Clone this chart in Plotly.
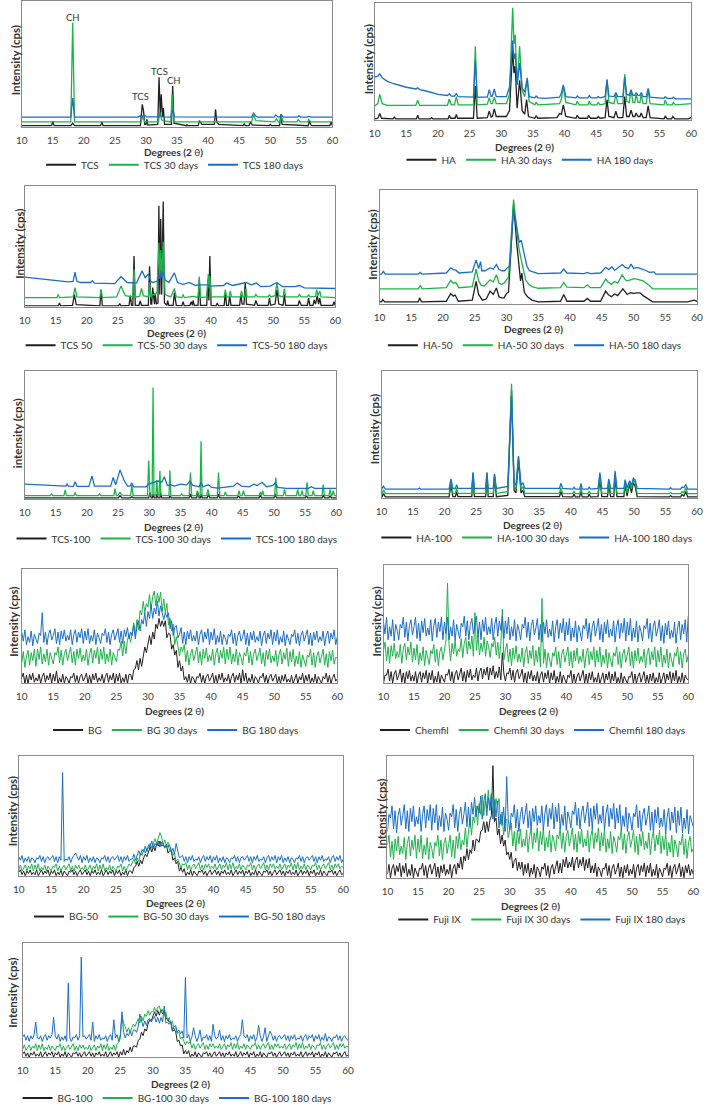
import plotly.graph_objects as go

FONT = "Lato, 'Open Sans', sans-serif"
C_BLACK = "#231f20"
C_GREEN = "#1fb24a"
C_BLUE = "#1a6fc4"

# ---------------- shared 2-theta grid (0.25 deg) for the noisy (amorphous) patterns ----------------
THETA_F = [10.0,10.25,10.5,10.75,11.0,11.25,11.5,11.75,12.0,12.25,
           12.5,12.75,13.0,13.25,13.5,13.75,14.0,14.25,14.5,14.75,
           15.0,15.25,15.5,15.75,16.0,16.25,16.5,16.75,17.0,17.25,
           17.5,17.75,18.0,18.25,18.5,18.75,19.0,19.25,19.5,19.75,
           20.0,20.25,20.5,20.75,21.0,21.25,21.5,21.75,22.0,22.25,
           22.5,22.75,23.0,23.25,23.5,23.75,24.0,24.25,24.5,24.75,
           25.0,25.25,25.5,25.75,26.0,26.25,26.5,26.75,27.0,27.25,
           27.5,27.75,28.0,28.25,28.5,28.75,29.0,29.25,29.5,29.75,
           30.0,30.25,30.5,30.75,31.0,31.25,31.5,31.75,32.0,32.25,
           32.5,32.75,33.0,33.25,33.5,33.75,34.0,34.25,34.5,34.75,
           35.0,35.25,35.5,35.75,36.0,36.25,36.5,36.75,37.0,37.25,
           37.5,37.75,38.0,38.25,38.5,38.75,39.0,39.25,39.5,39.75,
           40.0,40.25,40.5,40.75,41.0,41.25,41.5,41.75,42.0,42.25,
           42.5,42.75,43.0,43.25,43.5,43.75,44.0,44.25,44.5,44.75,
           45.0,45.25,45.5,45.75,46.0,46.25,46.5,46.75,47.0,47.25,
           47.5,47.75,48.0,48.25,48.5,48.75,49.0,49.25,49.5,49.75,
           50.0,50.25,50.5,50.75,51.0,51.25,51.5,51.75,52.0,52.25,
           52.5,52.75,53.0,53.25,53.5,53.75,54.0,54.25,54.5,54.75,
           55.0,55.25,55.5,55.75,56.0,56.25,56.5,56.75,57.0,57.25,
           57.5,57.75,58.0,58.25,58.5,58.75,59.0,59.25,59.5,59.75,
           60.0]

# ---------------- TCS ----------------
TCS_0 = [(10,1),(14.8,1),(15.0,4.5),(15.2,1),(17.9,1),(18.2,3),(18.5,1),(22.7,1),(22.9,4),(23.1,1),
         (29.1,1),(29.4,18),(29.6,13),(29.8,2),(30.0,2),(30.15,6),(30.3,1.5),(31.9,2),(32.1,39.5),(32.3,10),
         (32.45,26),(32.65,8),(32.8,15),(33.0,2),(34.1,2),(34.3,32.5),(34.5,3),(36.5,1),(36.6,2),(36.7,1),
         (38.4,1),(38.6,5),(39.0,2),(41.0,2),(41.2,14),(41.4,4),(41.7,2),(45.6,1),(45.8,2.5),(46.0,1),
         (46.6,1),(46.8,4),(47.1,1.5),(49.8,1),(50.0,2),(50.2,1),(51.5,1),(51.7,10),(51.9,2),(56.1,1),
         (56.3,5),(56.6,1),(59.6,1),(59.8,4),(60,1)]
TCS_30 = [(10,4),(17.9,4),(18.2,83),(18.5,4),(29.2,4),(29.5,8.5),(29.8,4),(32.0,4),(32.2,12),(32.5,6),
          (32.7,5),(34.0,4),(34.2,26),(34.5,4),(47.0,4),(47.3,9.5),(47.7,5),(50.7,4),(51.0,6.5),(51.3,4),
          (51.6,4),(51.8,8.5),(52.1,4),(54.3,4),(54.5,6),(54.8,4),(56.0,4),(56.2,6),(56.5,4),(60,4)]
TCS_180 = [(10,7.8),(17.9,7.8),(18.2,23),(18.5,7.8),(28.7,7.8),(29.0,8.8),(29.3,8),(29.7,9.8),(30.1,8),
           (32.1,8),(32.3,9.5),(32.6,8),(34.0,7.8),(34.3,14),(34.6,8),(47.0,7.8),(47.3,11),(47.7,8.5),
           (48,7.8),(50.6,7.8),(50.9,9.6),(51.2,8),(51.6,8),(51.8,9.6),(52.1,7.8),(54.4,7.8),(54.6,8.8),
           (54.9,7.8),(56.0,7.8),(56.2,8.5),(56.5,7.8),(60,7.8)]
TCS_LABELS = ["CH", "TCS", "TCS", "CH"]
TCS_LABEL_POS = [18.2, 29.1, 32.2, 34.5]
TCS_LABEL_H = [87, 24, 44, 37]

# ---------------- HA ----------------
HA_0 = [(10,1),(10.5,1.5),(10.8,5.5),(11.1,1.5),(12.9,1),(13.1,2.5),(13.3,1),(16.6,1),(16.8,4),(17.0,1),
        (18.8,1),(19,2),(19.2,1),(21.6,1),(21.8,4),(22.0,1.5),(22.7,1.5),(22.9,4.8),(23.1,1.5),(25.6,1.5),
        (25.9,29),(26.2,1.5),(27.8,2),(28.1,7.6),(28.4,2.5),(28.6,3),(28.9,9.6),(29.2,3),(30.8,3),(31.3,8),
        (31.8,61),(32.0,40),(32.2,46),(32.5,10),(32.9,34),(33.3,8),(33.7,5),(34.0,17.5),(34.3,3),(35.3,1.5),
        (35.5,3.5),(35.8,1.5),(38.8,2),(39.2,5.5),(39.5,5),(39.8,13),(40.2,3),(41.8,1.5),(42.0,4),(42.3,1.5),
        (43.6,1.5),(43.8,4),(44.1,1.5),(45.1,1.5),(45.3,3),(45.6,1.5),(46.4,2),(46.7,17.5),(47.0,3),(47.8,2),
        (48.1,7.6),(48.4,2),(49.2,2),(49.5,20),(49.8,3),(50.2,3),(50.5,8.5),(50.8,3),(51.1,3),(51.3,6),
        (51.6,3),(51.9,3),(52.1,6),(52.4,2),(52.9,2),(53.2,12),(53.5,2),(55.7,1),(55.9,3.5),(56.2,1),
        (56.9,1),(57.1,3),(57.4,1),(59.5,1),(60,2)]
HA_30 = [(10,12),(10.5,14),(10.8,22),(11.2,14),(12,12.5),(16.5,12.5),(16.8,17),(17.1,12.5),(21.5,12.5),
         (21.8,18),(22.1,13),(22.6,13),(22.9,20),(23.2,13),(25.6,13),(25.9,63),(26.2,13),(27.8,13.5),
         (28.1,19),(28.4,14),(28.6,14),(28.9,19.5),(29.2,14),(30.8,14),(31.3,22),(31.8,96),(32.0,65),
         (32.2,73),(32.5,30),(32.9,63),(33.3,25),(33.7,20),(34.1,35),(34.4,16),(35.3,13),(35.5,15),(35.8,13),
         (39.2,14),(39.5,18),(39.8,29),(40.2,15),(41.8,13),(42.0,16),(42.3,13),(43.7,13),(43.9,16),(44.2,13),
         (45.1,13),(45.3,15),(45.6,13),(46.4,14),(46.7,34.5),(47.0,15),(47.8,14),(48.1,22),(48.4,14),
         (49.2,14),(49.5,39),(49.8,16),(50.2,15),(50.5,25),(50.8,15),(51.1,15),(51.3,22),(51.6,15),(51.9,15),
         (52.1,22),(52.4,14),(52.9,14),(53.2,26),(53.5,14),(55.7,13),(55.9,17),(56.2,13),(57.0,13),(57.2,15),
         (57.5,13),(60,14)]
HA_180 = [(10,36.7),(10.5,37.5),(10.8,39.5),(11.2,36),(12,33),(13,31),(15,28),(16.5,26.5),(16.8,27.5),
          (17.1,26),(18,25),(20,22),(21.5,21),(21.8,22.5),(22.1,20.5),(22.6,20.5),(22.9,22.5),(23.2,20),
          (25.6,19.5),(25.9,51),(26.2,19.5),(27.8,19.5),(28.1,26),(28.4,20),(28.6,20.5),(28.9,26.5),(29.2,20),
          (30.8,20),(31.3,28),(31.8,68),(32.0,52),(32.2,57),(32.5,30),(32.9,48.6),(33.3,27),(33.7,24),
          (34.1,36),(34.4,20),(35.3,19),(35.5,20.5),(35.8,19),(37,18.5),(39.2,19.5),(39.5,23),(39.8,30),
          (40.2,20),(41.8,19),(42.0,20.5),(42.3,19),(43.7,19),(43.9,21),(44.2,19),(45.1,19),(45.3,20),
          (45.6,19),(46.4,20),(46.7,34.5),(47.0,20.5),(47.8,20),(48.1,23.5),(48.4,20),(49.2,20),(49.5,37),
          (49.8,22),(50.2,21),(50.5,26),(50.8,21),(51.1,21),(51.3,23.5),(51.6,21),(51.9,21),(52.1,23.5),
          (52.4,20),(52.9,20),(53.2,27),(53.5,19.5),(55.7,18.5),(55.9,20),(56.2,18.5),(57.0,18.5),(57.2,19.5),
          (57.5,18),(60,18)]

# ---------------- TCS 50 ----------------
TCS50_0 = [(10,0.5),(15.4,0.5),(15.6,3),(15.8,0.5),(17.7,1),(18.0,10),(18.3,1.5),(22.1,0.5),(22.3,14),
           (22.5,0.5),(25.1,0.5),(25.3,2.5),(25.5,0.5),(26.8,1),(27.0,9),(27.2,1),(27.4,1),(27.6,42),(27.8,1),
           (28.4,1),(28.6,4.7),(28.8,1),(29.9,1),(30.1,33.5),(30.3,2),(30.45,2),(30.6,15.7),(30.8,2),(30.9,2),
           (31.0,11),(31.2,2),(31.45,3),(31.6,84),(31.75,10),(31.9,73),(32.05,10),(32.3,87.5),(32.5,3),
           (32.9,1),(33.0,5),(33.2,1),(33.9,1),(34.1,11.5),(34.4,1),(35.3,0.5),(35.5,4),(35.7,0.5),(36.6,1),
           (36.8,4),(37.0,1),(37.1,5),(37.3,1),(37.9,1),(38.1,22.5),(38.3,1),(39.3,1),(39.5,22.5),(39.65,5),
           (39.8,42),(40.0,1),(40.8,0.5),(41.0,3),(41.2,0.5),(42.1,1),(42.3,11.5),(42.5,1),(42.8,1),(43.0,9),
           (43.2,1),(44.6,1),(44.8,10),(45.0,2),(45.3,2),(45.5,20),(45.7,2),(47.0,1),(47.2,5),(47.5,1),
           (49.2,1),(49.4,7),(49.6,1),(50.3,2),(50.6,14),(50.9,2),(51.6,1),(51.8,10),(52.0,1),(54.0,1),
           (54.2,5),(54.5,1),(55.5,1),(55.7,7),(55.9,1),(56.4,1),(56.6,5.5),(56.8,2),(57.1,9),(57.3,2),
           (57.5,7),(57.7,1),(59.6,1),(59.8,4),(60,0.5)]
TCS50_30 = [(10,7.4),(15.2,7.4),(15.4,10),(15.6,7.4),(17.8,8),(18.1,15.7),(18.4,8),(22.1,7.4),(22.3,14),
            (22.5,7.4),(24.8,8),(25.5,17),(26.2,9),(27.4,8),(27.6,31),(27.8,8),(28.5,8.5),(28.8,15),(29.1,9),
            (29.9,8),(30.1,20),(30.3,8),(30.6,10),(31.0,10),(31.3,12),(31.6,53),(31.75,25),(31.9,47),
            (32.05,25),(32.3,54),(32.6,10),(33.5,8),(34.1,15),(34.4,8),(35.3,7.4),(35.5,10),(35.7,7.4),
            (36.8,8.5),(37.1,8.5),(37.9,7.5),(38.1,25),(38.3,7.5),(39.3,8),(39.55,27),(39.7,15),(39.8,25.5),
            (40.0,8),(42.1,8),(42.3,14),(42.5,8),(42.9,8),(43.1,13),(43.3,8),(44.7,8),(44.9,13),(45.1,8),
            (45.4,8),(45.6,15),(45.8,8),(47.0,8),(47.2,10),(47.5,8),(49.2,8),(49.4,10),(49.6,8),(50.3,9),
            (50.6,20),(50.9,9),(51.6,8),(51.8,15),(52.0,8),(54.0,8),(54.2,10),(54.5,8),(55.5,8),(55.7,10),
            (55.9,8),(56.8,8.5),(57.0,14),(57.2,9),(57.5,13),(57.7,8),(60,7.4)]
TCS50_180 = [(10,24.5),(12,23.5),(15,22),(17,20.5),(17.8,21),(18.1,28.6),(18.4,21),(19,20),(20.6,20),
             (20.9,21.5),(21.2,19.5),(24.5,19),(25.5,25),(26.5,20),(28.0,19.5),(28.9,29.7),(29.4,24),
             (29.9,27),(30.3,21),(30.6,20),(31.3,21),(31.6,26),(31.75,23),(31.9,28),(32.05,24),(32.3,29),
             (32.6,22),(33.2,20),(34.1,28),(34.6,20),(35.5,18.5),(36.5,20),(37.5,17.5),(38.1,18),(39.5,18),
             (40,17),(42,17.5),(42.5,19.5),(43.5,17.5),(45.6,20),(46.5,18),(47.3,19.5),(48,16.5),(49.5,17),
             (50.6,20),(51.5,16.5),(53.5,16.5),(54.2,17.5),(55,15.5),(57.5,15.5),(60,15)]

# ---------------- HA-50 ----------------
HA50_0 = [(10,1.5),(10.3,1.5),(10.5,3.5),(10.8,1.5),(16.1,1.5),(16.3,5),(16.6,1.5),(20.5,2),(21.2,8.8),
          (21.6,6.5),(21.9,7.5),(22.4,2),(24.6,3),(25.2,19.6),(25.6,8),(25.8,6),(26.2,3),(26.8,4),(27.4,11),
          (27.9,8),(28.4,13.7),(28.8,6),(29.2,5),(29.6,5),(30.0,9),(30.3,10),(31.1,88),(31.6,53),(31.8,40),
          (32.0,31),(32.2,20),(32.4,27),(32.8,10),(33.0,8),(33.3,6),(34,3),(35,1.5),(38.5,2),(39.0,8),
          (39.5,2),(42.2,2),(42.7,4.5),(43.2,2),(44.8,2),(45.6,11),(46.0,8),(46.5,6),(47.0,8.5),(47.5,7),
          (48.3,13),(48.7,10),(49.0,8),(49.5,9.5),(50.0,9),(50.5,9.5),(51.0,9.5),(51.5,7),(52.0,5),(52.5,3),
          (53,1.5),(58.5,1.5),(59.5,3),(60,2)]
HA50_30 = [(10,13),(16.1,13),(16.4,16),(16.7,13),(20.5,14),(21.2,20.5),(21.6,18),(22.0,18.5),(22.5,14),
           (24.6,15),(25.2,30.4),(25.6,20),(26.0,16),(26.5,15.5),(27.4,21),(27.9,19),(28.4,25.4),(28.8,18),
           (29.2,17),(29.6,18),(30.0,21),(30.3,23),(31.1,92),(31.6,62),(31.9,50),(32.2,41.5),(32.5,33),
           (33.0,21),(33.5,17),(34.0,15),(35,13.5),(38.5,14),(39.0,18.7),(39.5,14.5),(42.2,14),(42.7,16.5),
           (43.2,14),(44.8,14),(45.6,21.6),(46.0,19),(46.5,17),(47.0,19.5),(47.5,18),(48.2,25.4),(48.7,21),
           (49.0,20),(49.5,21),(50.0,22),(50.5,21.5),(51.0,21),(51.5,20),(52.0,18),(52.5,16),(53,13),(60,13)]
HA50_180 = [(10,26),(10.3,26),(10.6,28.5),(10.9,26),(16.1,26),(16.4,27.5),(16.7,26),(20.5,27),(21.2,31.6),
            (21.6,30),(22.0,29.5),(22.5,27),(24.6,28),(25.2,38.6),(25.6,31),(25.9,37),(26.1,29),(26.6,29),
            (27.4,31.5),(27.9,30.5),(28.4,34.5),(28.8,30),(29.3,29),(29.7,29),(30.1,31.5),(30.5,33),(31.1,84),
            (31.7,65),(32.0,54),(32.3,56),(32.7,46),(33.2,33),(33.6,29),(34.1,28),(35,26.5),(38.5,27),
            (39.0,30.5),(39.5,27),(42.2,26.5),(42.7,27.5),(43.2,26.5),(44.8,27),(45.6,32),(46.1,30),(46.6,32.5),
            (47.0,29.5),(47.3,30.5),(48.2,34.5),(48.7,32),(49.2,31),(49.6,35),(50.0,31),(50.5,32),(51.0,31),
            (51.3,30.5),(52.0,29),(52.5,27.5),(53.2,28),(53.5,26),(60,26)]

# ---------------- TCS-100 ----------------
TCS100_0 = [(10,0.8),(25.0,0.8),(25.3,2.5),(25.6,0.8),(27.0,0.8),(27.2,1.8),(27.4,0.8),(29.9,0.8),(30.1,5),
            (30.3,0.8),(30.5,0.8),(30.6,3.8),(30.8,0.8),(31.1,0.8),(31.2,3.8),(31.4,0.8),(31.7,0.8),(31.8,5),
            (32.0,0.8),(33.2,0.8),(33.3,2.5),(33.5,0.8),(36.4,0.8),(36.6,3.8),(36.8,0.8),(37.6,0.8),(37.8,5),
            (38.0,0.8),(38.2,0.8),(38.3,3.8),(38.5,0.8),(39.3,0.8),(39.5,3.8),(39.7,0.8),(40.9,0.8),(41.1,3.8),
            (41.3,0.8),(44.1,0.8),(44.3,2.5),(44.5,0.8),(47.6,0.8),(47.8,3),(48.0,0.8),(50.0,0.8),(50.2,3.8),
            (50.4,0.8),(55.0,0.8),(55.2,2.5),(55.4,0.8),(57.7,0.8),(57.9,3),(58.1,0.8),(58.8,0.8),(59.0,2.5),
            (59.2,0.8),(60,0.8)]
TCS100_30 = [(10,2.6),(14.1,2.6),(14.3,4),(14.5,2.6),(16.3,2.6),(16.5,7),(16.7,2.6),(17.9,2.6),(18.1,5),
             (18.3,2.6),(21.8,2.6),(22.0,4),(22.2,2.6),(24.3,2.6),(24.5,8),(24.7,2.6),(25.0,3),(25.3,5),
             (25.6,3),(27.0,2.6),(27.2,10.8),(27.4,2.6),(29.7,2.6),(29.9,30),(30.1,3),(30.45,3),(30.6,87),
             (30.75,3),(31.05,3),(31.2,14.7),(31.35,3),(31.55,3),(31.7,22),(31.85,3),(33.15,2.6),(33.3,22.4),
             (33.45,2.6),(35.0,2.6),(35.2,4),(35.4,2.6),(36.4,2.6),(36.6,20.6),(36.8,2.6),(37.5,2.6),(37.7,6.5),
             (37.9,2.6),(38.15,2.6),(38.3,45),(38.45,2.6),(39.2,2.6),(39.4,7.5),(39.6,2.6),(40.9,2.6),
             (41.1,20.6),(41.3,2.6),(42.0,2.6),(42.2,5.5),(42.4,2.6),(44.2,2.6),(44.4,6.5),(44.6,2.6),(44.9,2.6),
             (45.1,6.5),(45.3,2.6),(47.6,2.6),(47.8,5.5),(48.0,2.6),(48.2,6.5),(48.4,2.6),(50.1,2.6),(50.3,16.7),
             (50.5,2.6),(51.5,2.6),(51.7,7.5),(51.9,2.6),(53.6,2.6),(53.8,7.5),(54.0,2.6),(54.3,2.6),(54.5,6.5),
             (54.7,2.6),(55.1,2.6),(55.3,12.9),(55.5,2.6),(56.1,2.6),(56.3,6.5),(56.5,2.6),(57.7,2.6),
             (57.9,11.3),(58.1,2.6),(58.8,2.6),(59.0,7.5),(59.2,2.6),(59.3,2.6),(59.5,6.5),(59.7,2.6),(60,2.6)]
TCS100_180 = [(10,11.6),(12,11),(15,10),(16.6,10),(16.8,11.6),(17.0,10),(17.8,9.8),(18.1,13.4),(18.4,9.8),
              (20.3,9.8),(20.8,18),(21.2,10),(23.8,10),(24.2,16.8),(24.6,11),(25.3,22.7),(25.9,15),(26.5,10),
              (26.9,10),(27.2,12.5),(27.5,9.5),(29.5,9.5),(29.9,11.6),(30.6,13),(31.4,14),(32.0,13),
              (32.4,17.3),(32.9,10.5),(33.5,11),(34,10),(35,11.5),(36,11),(36.5,14),(37.0,10.5),(38.0,9.5),
              (38.3,13),(38.6,9.5),(39.5,11),(40,9),(41,8.5),(43.5,10),(44.1,12.4),(44.8,10),(46,9.5),
              (46.8,11.5),(47.3,10.5),(48.1,13),(48.8,9.5),(49.8,10.5),(50.2,12.5),(50.6,9),(52,8.2),
              (55.5,8.2),(56,9.5),(56.5,8.2),(60,8.2)]

# ---------------- HA-100 ----------------
HA100_0 = [(10,0.8),(10.1,1),(10.3,3.5),(10.6,0.8),(20.7,0.8),(21.0,10),(21.3,1),(21.7,1),(21.9,5),(22.1,1),
           (24.3,1),(24.5,18),(24.7,1),(26.5,1),(26.7,18),(26.9,1),(27.7,1),(27.9,16),(28.2,1),(30.0,2),
           (30.6,85),(31.0,6),(31.3,4),(31.7,30),(32.1,4),(32.4,6),(32.7,1),(38.2,1),(38.4,5),(38.7,1),
           (40.3,0.8),(40.5,3),(40.7,0.8),(41.4,0.8),(41.6,5),(41.8,0.8),(42.7,0.8),(42.9,3),(43.1,0.8),
           (44.3,1),(44.6,15),(44.9,1),(45.8,1),(46.0,10),(46.3,1),(46.8,1),(47.0,16),(47.3,1),(48.4,1),
           (48.6,10),(48.9,1.5),(49.3,11),(49.6,4),(49.9,12),(50.2,9),(50.5,1),(55.6,0.8),(55.8,1.8),
           (56.0,0.8),(57.4,0.8),(57.6,2.5),(57.9,1.5),(58.2,5),(58.5,0.8),(60,0.8)]
HA100_30 = [(10,3.4),(10.1,3.6),(10.3,6.5),(10.6,3.4),(20.7,3.4),(21.0,13),(21.3,3.6),(21.7,3.6),(21.9,8),
            (22.1,3.6),(24.3,3.6),(24.5,20),(24.7,3.6),(26.5,3.6),(26.7,20),(26.9,3.6),(27.7,3.6),(27.9,18),
            (28.2,3.6),(30.0,5),(30.6,90),(31.0,9),(31.3,7),(31.7,32),(32.1,7),(32.4,9),(32.7,3.6),(38.2,3.6),
            (38.4,8),(38.7,3.6),(40.3,3.4),(40.5,5.5),(40.7,3.4),(41.4,3.4),(41.6,8),(41.8,3.4),(42.7,3.4),
            (42.9,5.5),(43.1,3.4),(44.3,3.6),(44.6,18),(44.9,3.6),(45.8,3.6),(46.0,13),(46.3,3.6),(46.8,3.6),
            (47.0,19),(47.3,3.6),(48.4,3.6),(48.6,13),(48.9,4),(49.3,13),(49.6,7),(49.9,14),(50.2,12),
            (50.5,3.6),(55.6,3.4),(55.8,4.4),(56.0,3.4),(57.4,3.4),(57.6,5),(57.9,4),(58.2,8),(58.5,3.4),(60,3.4)]
HA100_180 = [(10,7),(10.1,7.5),(10.3,9.3),(10.6,7),(15.8,7),(16,7.8),(16.2,7),(20.7,7),(21.0,15),(21.3,7.5),
             (21.7,7.5),(21.9,10.5),(22.1,7.5),(24.3,7.5),(24.5,20),(24.7,7.5),(26.5,7.5),(26.7,20),(26.9,7.5),
             (27.7,7.5),(27.9,19),(28.2,7.5),(30.0,9),(30.6,80),(31.0,12),(31.3,10),(31.7,33),(32.1,10),
             (32.4,12),(32.7,7.5),(38.2,7.5),(38.4,11.5),(38.7,7.5),(40.3,7),(40.5,8.5),(40.7,7),(41.4,7),
             (41.6,11.5),(41.8,7),(42.7,7),(42.9,8.5),(43.1,7),(44.3,7.5),(44.6,20),(44.9,7.5),(45.8,7.5),
             (46.0,15),(46.3,7.5),(46.8,7.5),(47.0,21.4),(47.3,7.5),(48.4,7.5),(48.6,14.5),(48.9,8),(49.3,13.5),
             (49.6,10),(49.9,15.5),(50.2,14),(50.5,7.5),(55.6,7),(55.8,8),(56.0,7),(57.4,7),(57.6,8.5),
             (57.9,8),(58.2,10.5),(58.5,7),(60,7)]

# ---------------- BG (values on THETA_F) ----------------
BG_0 = [5,9,0,7,0,8,3,9,1,5,
        2,8,0,6,9,1,7,3,9,0,
        8,2,11,0,5,1,8,0,6,4,
        0,6,5,9,1,7,0,6,8,2,
        5,9,0,7,0,8,3,9,1,5,
        2,8,0,6,9,1,7,3,9,0,
        8,2,9,0,5,1,8,0,8,8,
        3,12,13,20,12,22,15,26,32,27,
        34,42,34,45,39,52,48,57,50,55,
        50,55,40,44,43,30,34,25,29,14,
        20,11,15,3,6,1,8,0,6,4,
        0,6,5,9,1,7,0,6,8,2,
        5,9,0,7,0,8,3,9,1,5,
        2,8,0,6,9,1,7,3,9,0,
        12,2,9,0,5,1,8,0,6,4,
        0,6,5,9,1,7,0,6,8,2,
        5,8,0,6,0,7,2,8,1,4,
        1,7,0,5,8,0,6,3,9,0,
        7,2,8,0,5,1,8,0,6,3,
        0,6,4,9,1,7,0,5,8,2,
        4]
BG_30 = [18,28,14,24,29,16,27,20,30,15,
         30,21,32,17,26,19,30,16,27,23,
         17,27,25,32,18,29,16,26,30,20,
         26,32,18,28,16,30,22,31,19,25,
         20,30,16,26,31,18,29,22,32,17,
         30,21,32,17,26,19,30,16,27,23,
         19,30,29,37,24,37,26,38,43,36,
         44,53,42,56,47,64,60,72,62,70,
         67,78,65,76,81,68,79,71,80,63,
         74,62,70,51,57,46,52,34,41,34,
         24,32,28,34,19,29,16,26,30,20,
         26,32,18,28,16,30,22,31,19,25,
         20,30,16,26,31,18,29,22,32,17,
         30,21,32,17,26,19,30,16,27,23,
         16,27,24,32,18,28,16,26,30,20,
         25,31,17,27,15,29,21,30,18,24,
         19,29,15,25,30,17,27,21,31,15,
         28,19,30,15,24,17,28,14,25,21,
         15,25,23,30,16,27,14,24,28,18,
         24,30,16,26,14,28,20,29,17,23,
         22]
BG_180 = [45,37,47,34,41,36,46,33,43,39,
          35,44,42,62,36,45,34,43,47,38,
          42,48,35,45,34,46,39,47,37,42,
          38,47,34,43,47,36,45,40,48,35,
          46,38,48,35,42,37,47,34,44,40,
          35,44,42,48,36,45,34,43,47,38,
          42,48,36,46,35,47,41,49,39,45,
          42,51,39,50,55,46,56,52,62,50,
          63,57,69,57,66,61,72,59,68,63,
          56,62,58,62,48,55,42,49,51,40,
          43,49,35,45,34,46,39,47,37,42,
          37,46,34,43,47,36,45,39,48,34,
          45,38,48,34,42,36,46,34,43,40,
          34,43,41,47,35,44,33,42,46,37,
          41,47,34,44,33,45,38,46,36,41,
          37,46,33,42,46,35,44,39,47,34,
          45,37,47,34,41,36,46,33,43,39,
          34,43,41,47,35,44,33,42,46,37,
          41,47,34,44,33,45,38,46,36,41,
          37,46,33,42,46,35,44,39,47,34,
          41]

# ---------------- Chemfil ----------------
CHEM_0 = [0,7,7,12,2,10,0,8,11,3,
          7,12,1,9,0,10,4,11,2,7,
          2,10,0,7,10,1,9,4,11,0,
          9,3,11,0,6,1,10,0,7,4,
          1,8,7,12,2,10,0,8,11,3,
          8,13,2,10,1,11,5,12,3,7,
          5,13,2,10,13,4,12,7,14,3,
          13,7,15,4,10,5,14,3,26,8,
          2,9,8,13,3,11,1,9,12,4,
          7,12,1,9,0,10,4,11,2,7,
          2,10,0,7,10,1,9,4,11,0,
          9,3,11,0,6,1,10,0,7,4,
          0,7,5,11,0,8,0,6,9,2,
          6,11,0,8,0,9,3,10,1,5,
          1,9,0,6,9,0,8,3,10,0,
          8,2,10,0,5,0,9,0,6,3,
          0,6,5,10,0,8,0,6,9,1,
          5,10,0,7,0,8,2,9,0,5,
          1,9,0,6,9,0,8,3,10,0,
          9,2,11,0,6,1,9,0,7,4,
          3]
CHEM_30 = [28,35,19,31,17,32,23,34,21,27,
           22,33,17,29,34,20,31,24,35,18,
           30,20,33,16,26,19,31,15,28,23,
           16,28,25,33,18,29,15,27,31,20,
           30,37,85,33,19,34,25,36,23,29,
           27,38,22,34,39,25,36,29,40,23,
           60,28,41,24,34,27,39,23,36,31,
           22,34,31,39,24,35,21,33,63,20,
           28,34,18,29,15,30,21,32,18,25,
           18,30,14,26,31,17,28,21,32,15,
           28,18,31,14,72,17,29,13,26,21,
           14,26,23,31,16,27,13,25,29,18,
           24,31,15,27,13,28,19,30,17,23,
           18,29,13,25,30,16,27,20,31,14,
           28,18,31,14,24,17,29,13,26,21,
           14,26,23,31,16,27,13,25,29,18,
           24,31,15,27,13,28,19,30,17,23,
           18,29,13,25,30,16,27,20,31,14,
           28,18,31,14,24,17,29,13,26,21,
           14,26,23,31,16,27,13,25,29,18,
           24]
CHEM_180 = [52,42,56,37,48,40,54,36,50,45,
            37,50,47,56,39,52,36,49,54,41,
            48,56,38,51,36,53,43,55,40,47,
            41,54,36,49,55,39,52,44,56,37,
            52,42,56,37,48,40,54,36,50,45,
            38,51,48,57,40,53,37,50,55,42,
            49,57,39,52,37,54,44,56,41,48,
            42,55,37,50,56,40,53,45,57,38,
            53,42,56,37,48,40,54,36,50,45,
            37,50,47,56,39,52,36,49,54,41,
            47,55,37,50,35,52,42,54,39,46,
            40,53,35,48,54,38,51,43,55,36,
            52,41,55,36,47,39,53,35,49,44,
            36,49,46,55,38,51,35,48,53,40,
            47,55,37,50,35,52,42,54,39,46,
            40,53,35,48,54,38,51,43,55,36,
            52,41,55,36,47,39,53,35,49,44,
            36,49,46,55,38,51,35,48,53,40,
            46,54,36,49,34,51,41,53,38,45,
            39,52,34,47,53,37,50,42,54,35,
            57]

# ---------------- BG-50 ----------------
BG50_0 = [3,5,1,4,0,4,2,5,1,3,
          1,5,0,3,5,1,4,2,5,0,
          4,2,5,0,3,1,5,0,4,2,
          0,4,3,5,1,4,0,3,5,1,
          3,5,1,4,0,4,2,5,1,3,
          1,5,0,3,5,1,4,2,5,0,
          4,2,5,0,3,1,5,0,4,4,
          2,7,8,12,8,13,10,15,18,16,
          20,24,20,25,21,27,25,29,25,26,
          24,26,19,21,21,13,15,10,12,4,
          7,3,6,0,3,1,5,0,4,2,
          0,4,3,5,1,4,0,3,5,1,
          3,5,1,4,0,4,2,5,1,3,
          1,5,0,3,5,1,4,2,5,0,
          4,2,5,0,3,1,5,0,4,2,
          0,4,3,5,1,4,0,3,5,1,
          3,5,1,4,0,4,2,5,1,3,
          1,5,0,3,5,1,4,2,5,0,
          4,2,5,0,3,1,5,0,4,2,
          0,4,3,5,1,4,0,3,5,1,
          2]
BG50_30 = [5,9,4,7,9,4,8,6,10,4,
           9,5,10,4,7,5,9,4,8,6,
           4,8,7,10,4,8,4,7,9,5,
           7,10,4,8,4,9,6,9,5,7,
           5,9,4,7,9,4,8,6,10,4,
           9,5,10,4,7,5,9,4,8,6,
           4,8,7,10,4,8,4,7,10,8,
           11,14,10,15,12,19,17,22,19,23,
           23,27,23,28,31,27,32,36,33,26,
           30,25,28,20,22,17,19,12,14,11,
           7,10,9,11,5,9,5,8,10,6,
           8,11,5,9,5,10,7,10,6,8,
           6,10,5,8,10,5,9,7,11,5,
           10,6,11,5,8,6,10,5,9,7,
           5,9,8,11,5,9,5,8,10,6,
           8,11,5,9,5,10,7,10,6,8,
           6,10,5,8,10,5,9,7,11,5,
           10,6,11,5,8,6,10,5,9,7,
           5,9,8,11,5,9,5,8,10,6,
           8,11,5,9,5,10,7,10,6,8,
           7]
BG50_180 = [16,13,17,11,15,12,16,11,15,14,
            11,15,14,17,12,16,11,15,16,13,
            15,17,12,16,11,16,13,86,12,14,
            13,16,11,15,17,19,16,13,17,11,
            16,13,17,11,15,12,16,11,15,14,
            11,15,14,17,12,16,11,15,16,13,
            15,17,12,16,11,16,13,17,12,14,
            14,18,13,18,21,17,22,20,25,20,
            26,24,29,23,27,25,29,24,28,27,
            23,26,24,26,20,23,18,27,20,15,
            16,17,12,16,11,16,13,17,12,14,
            13,16,11,15,17,12,16,13,17,11,
            16,13,17,11,15,12,16,11,15,14,
            11,15,14,17,12,16,11,15,16,13,
            15,17,12,16,11,16,13,17,12,14,
            13,16,11,15,17,12,16,13,17,11,
            16,13,17,11,15,12,16,11,15,14,
            11,15,14,17,12,16,11,15,16,13,
            15,17,12,16,11,16,13,17,12,14,
            13,16,11,15,17,12,16,13,17,11,
            14]

# ---------------- Fuji IX ----------------
FUJI_0 = [3,11,0,8,11,2,10,5,12,1,
          10,4,12,1,7,2,11,0,8,5,
          1,8,7,12,2,10,0,8,11,3,
          7,12,1,9,0,10,4,11,2,7,
          3,11,0,8,11,3,12,8,17,7,
          18,14,24,15,23,20,31,22,32,31,
          29,38,39,46,37,46,38,47,51,92,
          46,49,35,40,28,35,26,31,19,21,
          15,21,8,14,16,6,13,7,13,2,
          11,4,12,1,8,3,11,0,9,6,
          1,9,7,12,2,10,0,8,11,3,
          9,14,4,12,4,15,9,17,8,13,
          9,17,6,14,17,8,15,10,17,6,
          15,8,16,4,10,4,12,1,9,6,
          1,8,7,12,2,10,0,8,11,3,
          7,12,1,9,0,10,4,11,2,7,
          3,11,0,8,11,2,10,5,12,1,
          10,4,12,1,7,2,11,0,8,5,
          1,8,7,12,2,10,0,8,11,3,
          7,12,1,9,0,10,4,11,2,7,
          3]
FUJI_30 = [27,35,17,30,15,32,22,34,19,26,
           20,33,15,28,34,18,31,23,35,16,
           32,21,35,16,27,19,33,15,29,24,
           16,29,26,35,18,31,15,28,33,20,
           27,35,17,31,16,34,24,37,23,31,
           27,41,25,40,49,35,50,45,59,43,
           61,52,68,51,63,57,72,55,69,64,
           54,65,59,65,44,54,35,46,48,33,
           38,45,26,38,22,39,28,40,25,32,
           26,39,21,34,40,24,37,29,41,22,
           38,27,41,22,33,25,39,21,35,30,
           22,35,32,41,24,37,21,34,39,26,
           33,41,23,36,21,38,28,40,25,32,
           26,39,21,34,40,24,37,29,41,22,
           37,26,40,21,32,24,38,20,34,29,
           21,34,31,40,23,36,20,33,38,25,
           31,39,21,34,19,36,26,38,23,30,
           24,37,19,32,38,22,35,27,39,20,
           34,23,37,18,29,21,35,17,31,26,
           17,30,27,36,19,32,16,29,34,21,
           24]
FUJI_180 = [38,52,49,59,40,55,37,51,57,43,
            51,60,40,55,38,57,46,59,42,50,
            44,58,38,52,59,41,56,47,60,39,
            57,45,60,39,51,42,58,38,53,48,
            39,53,50,60,41,56,38,52,58,44,
            52,62,42,58,42,62,52,66,50,59,
            53,67,48,62,69,51,66,56,69,48,
            64,50,63,41,52,43,58,38,83,48,
            39,53,50,60,41,56,38,52,58,44,
            52,61,41,55,39,57,46,59,43,51,
            45,59,39,53,60,42,57,48,61,40,
            58,46,61,40,52,43,59,39,54,49,
            41,55,52,62,43,57,40,54,59,45,
            53,62,42,57,40,59,48,61,44,52,
            45,59,39,53,60,42,57,48,61,40,
            57,45,60,39,51,42,58,38,53,48,
            39,53,50,60,41,55,38,52,57,43,
            50,59,39,54,37,56,45,58,41,49,
            42,56,36,50,57,39,54,45,58,37,
            55,43,58,37,49,40,56,36,51,46,
            42]

# ---------------- BG-100 ----------------
BG100_0 = [3,5,1,4,0,4,2,5,1,3,
           1,5,0,3,5,1,4,2,5,0,
           4,2,5,0,3,1,5,0,4,2,
           0,4,3,5,1,4,0,3,5,1,
           3,5,1,4,0,4,2,5,1,3,
           1,5,0,3,5,1,4,2,5,0,
           5,2,7,2,6,4,9,5,10,10,
           9,15,16,22,19,25,23,29,33,32,
           36,40,36,41,37,42,38,41,34,34,
           31,31,23,24,23,14,15,10,11,3,
           6,3,6,0,3,1,5,0,4,2,
           0,4,3,5,1,4,0,3,5,1,
           3,5,1,4,0,4,2,5,1,3,
           1,5,0,3,5,1,4,2,5,0,
           4,2,5,0,3,1,5,0,4,2,
           0,4,3,5,1,4,0,3,5,1,
           3,5,1,4,0,4,2,5,1,3,
           1,5,0,3,5,1,4,2,5,0,
           4,2,5,0,3,1,5,0,4,2,
           0,4,3,5,1,4,0,3,5,1,
           2]
BG100_30 = [7,11,6,9,11,6,10,8,12,6,
            11,7,12,6,9,7,11,6,10,8,
            6,10,9,12,6,10,6,9,11,7,
            9,12,6,10,6,11,8,11,7,9,
            7,11,6,9,11,6,10,8,12,6,
            11,7,12,6,9,7,11,6,12,13,
            17,37,30,27,22,26,22,26,29,27,
            31,34,30,36,32,38,36,41,37,40,
            40,44,40,44,45,39,42,38,40,32,
            35,30,32,24,26,21,22,16,18,15,
            11,14,12,14,8,12,7,10,12,8,
            10,13,7,11,7,12,9,12,8,10,
            8,12,7,10,12,7,11,9,13,7,
            12,8,13,7,10,8,12,7,11,9,
            7,11,10,13,7,11,7,10,12,8,
            10,13,7,11,7,12,9,12,8,10,
            8,12,7,10,12,7,11,9,13,7,
            12,8,13,7,10,8,12,7,11,9,
            7,11,10,13,7,11,7,10,12,8,
            10,13,7,11,7,12,9,12,8,10,
            9]
BG100_180 = [18,20,15,19,14,19,16,20,31,17,
             16,19,14,18,20,15,19,17,20,35,
             19,16,20,14,18,15,19,14,65,17,
             14,18,17,20,15,19,88,18,19,16,
             18,20,15,31,14,19,16,20,15,17,
             16,19,14,18,20,15,33,17,20,14,
             20,40,22,17,21,19,23,19,24,24,
             22,27,38,31,27,32,28,33,34,31,
             34,36,31,35,30,35,31,45,30,31,
             29,31,24,27,28,22,24,21,23,17,
             70,17,20,14,18,26,19,14,18,24,
             14,18,17,20,15,19,14,29,19,16,
             18,24,15,19,14,19,16,20,15,17,
             16,19,14,18,20,33,19,17,20,14,
             19,16,20,14,18,28,19,14,18,26,
             14,18,23,20,15,19,14,18,19,16,
             18,20,15,19,14,19,16,20,15,17,
             16,19,14,18,20,15,19,17,20,14,
             19,16,20,14,18,15,21,14,18,17,
             14,18,17,20,15,19,14,18,19,16,
             15]

# ---------------- panel definitions ----------------
PANELS = [
    dict(names=["TCS", "TCS 30 days", "TCS 180 days"], data=[TCS_0, TCS_30, TCS_180], ytitle="Intensity (cps)"),
    dict(names=["HA", "HA 30 days", "HA 180 days"], data=[HA_0, HA_30, HA_180], ytitle="Intensity (cps)"),
    dict(names=["TCS 50", "TCS-50 30 days", "TCS-50 180 days"], data=[TCS50_0, TCS50_30, TCS50_180], ytitle="Intensity (cps)"),
    dict(names=["HA-50", "HA-50 30 days", "HA-50 180 days"], data=[HA50_0, HA50_30, HA50_180], ytitle="Intensity (cps)"),
    dict(names=["TCS-100", "TCS-100 30 days", "TCS-100 180 days"], data=[TCS100_0, TCS100_30, TCS100_180], ytitle="intensity (cps)"),
    dict(names=["HA-100", "HA-100 30 days", "HA-100 180 days"], data=[HA100_0, HA100_30, HA100_180], ytitle="Intensity (cps)"),
    dict(names=["BG", "BG 30 days", "BG 180 days"], data=[BG_0, BG_30, BG_180], ytitle="Intensity (cps)"),
    dict(names=["Chemfil", "Chemfil 30 days", "Chemfil 180 days"], data=[CHEM_0, CHEM_30, CHEM_180], ytitle="Intensity (cps)"),
    dict(names=["BG-50", "BG-50 30 days", "BG-50 180 days"], data=[BG50_0, BG50_30, BG50_180], ytitle="Intensity (cps)"),
    dict(names=["Fuji IX", "Fuji IX 30 days", "Fuji IX 180 days"], data=[FUJI_0, FUJI_30, FUJI_180], ytitle="Intensity (cps)"),
    dict(names=["BG-100", "BG-100 30 days", "BG-100 180 days"], data=[BG100_0, BG100_30, BG100_180], ytitle="Intensity (cps)"),
]

# pixel geometry: box left, right, top, bottom, legend cx, cy, y-title x, y, x-title x, y
GEOM = [
    (16, 332, 1, 128, 172, 166, 10, 61, 170, 153),
    (375, 697, 3, 121, 533, 161, 369, 60, 527, 148),
    (19, 335, 188, 309, 174, 348, 13, 246, 173, 336),
    (380, 703, 192, 306, 538, 348, 372, 247, 537, 332),
    (19, 336, 374, 503, 174, 543, 12, 437, 170, 531),
    (382, 703, 374, 502, 540, 542, 375, 433, 536, 529),
    (16, 337, 574, 689, 173, 736, 8, 627, 171, 717),
    (384, 694, 570, 689, 536, 736, 377, 627, 532, 717),
    (13, 343, 762, 883, 177, 924, 6, 818, 172, 910),
    (388, 699, 762, 885, 545, 927, 382, 821, 534, 913),
    (17, 348, 951, 1066, 174, 1107, 7, 1001, 177, 1093),
]

W, H = 709, 1113
COLORS = [C_BLACK, C_GREEN, C_BLUE]


def px_x(v):
    return v / W


def px_y(v):
    return 1 - v / H


fig = go.Figure()
layout = dict(width=W, height=H, margin=dict(l=0, r=0, t=0, b=0),
              paper_bgcolor="white", plot_bgcolor="white",
              font=dict(family=FONT, size=10, color="#333333"), annotations=[])

for i, (panel, g) in enumerate(zip(PANELS, GEOM)):
    k = i + 1
    sfx = "" if k == 1 else str(k)
    lg = "legend" if k == 1 else f"legend{k}"
    L, R, T, B, lcx, lcy, ytx, yty, xtx, xty = g
    for name, series, color in zip(panel["names"], panel["data"], COLORS):
        if isinstance(series[0], tuple):
            xs = [p[0] for p in series]
            ys = [p[1] for p in series]
            lw = 1.3
        else:
            xs = THETA_F
            ys = series
            lw = 1.0
        fig.add_trace(go.Scatter(x=xs, y=ys, mode="lines", name=name, showlegend=False,
                                 line=dict(color=color, width=lw),
                                 xaxis="x" + sfx, yaxis="y" + sfx, hoverinfo="skip"))
    # legend-only entries (thicker key lines, as in the reference)
    for name, color in zip(panel["names"], COLORS):
        fig.add_trace(go.Scatter(x=[None], y=[None], mode="lines", name=name,
                                 line=dict(color=color, width=2),
                                 xaxis="x" + sfx, yaxis="y" + sfx, legend=lg, hoverinfo="skip"))
    layout["xaxis" + sfx] = dict(domain=[px_x(L), px_x(R)], anchor="y" + sfx, range=[10, 60],
                                 tickmode="linear", tick0=10, dtick=5, showgrid=False, zeroline=False,
                                 showline=True, mirror=True, linecolor="#8a8a8a", linewidth=1,
                                 ticks="", tickfont=dict(size=10, color="#404040", family=FONT),
                                 ticklabelstandoff=4, fixedrange=True)
    layout["yaxis" + sfx] = dict(domain=[px_y(B), px_y(T)], anchor="x" + sfx, range=[0, 100],
                                 showticklabels=False, showgrid=False, zeroline=False,
                                 showline=True, mirror=True, linecolor="#8a8a8a", linewidth=1, ticks="",
                                 fixedrange=True)
    layout[lg] = dict(orientation="h", x=px_x(lcx), y=px_y(lcy), xanchor="center", yanchor="middle",
                      xref="paper", yref="paper", bgcolor="rgba(0,0,0,0)",
                      font=dict(size=10, family=FONT, color="#333333"), itemwidth=30)
    layout["annotations"].append(dict(text="<b>" + panel["ytitle"] + "</b>", textangle=-90,
                                      x=px_x(ytx), y=px_y(yty), xref="paper", yref="paper",
                                      xanchor="center", yanchor="middle", showarrow=False,
                                      font=dict(size=11.5, family=FONT, color="#333333")))
    layout["annotations"].append(dict(text="<b>Degrees (2 </b>θ<b>)</b>",
                                      x=px_x(xtx), y=px_y(xty), xref="paper", yref="paper",
                                      xanchor="center", yanchor="middle", showarrow=False,
                                      font=dict(size=10, family=FONT, color="#333333")))

for lab, xpos, h in zip(TCS_LABELS, TCS_LABEL_POS, TCS_LABEL_H):
    layout["annotations"].append(dict(text=lab, x=xpos, y=h, xref="x", yref="y", showarrow=False,
                                      xanchor="center", yanchor="middle",
                                      font=dict(size=9.5, family=FONT, color="#333333")))

fig.update_layout(**layout)
fig.write_html("out.html", config={"displayModeBar": False},
               post_script="document.body.style.margin='0';document.body.style.overflow='hidden';")
